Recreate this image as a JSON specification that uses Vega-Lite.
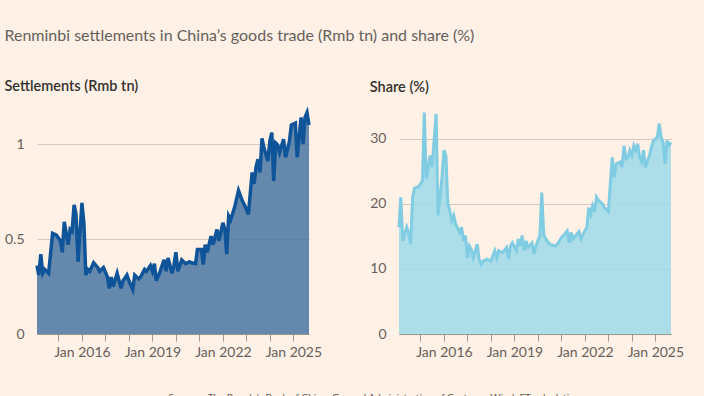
{
  "$schema": "https://vega.github.io/schema/vega-lite/v6.json",
  "background": "#fff1e5",
  "padding": {"left": 4, "top": 28, "right": 22, "bottom": 0},
  "title": {
    "text": "Renminbi settlements in China’s goods trade (Rmb tn) and share (%)",
    "anchor": "start",
    "frame": "bounds",
    "font": "Lato",
    "fontSize": 16,
    "fontWeight": "normal",
    "color": "#66605c",
    "offset": 35
  },
  "config": {
    "view": {"stroke": null},
    "font": "Lato",
    "axisY": {
      "domain": false,
      "ticks": false,
      "grid": true,
      "gridColor": "#d4cbc3",
      "gridWidth": 1,
      "labelFont": "Lato",
      "labelFontSize": 14,
      "labelColor": "#66605c",
      "labelPadding": 13,
      "title": null
    },
    "axisX": {
      "grid": false,
      "domain": true,
      "domainColor": "#9e978f",
      "ticks": true,
      "tickColor": "#9e978f",
      "tickSize": 7,
      "labelFont": "Lato",
      "labelFontSize": 14,
      "labelColor": "#66605c",
      "labelPadding": 4,
      "labelFlush": false,
      "zindex": 1
    }
  },
  "datasets": {
    "settle": [
      {"date": "2014-02-01", "v": 0.36}, {"date": "2014-03-01", "v": 0.31}, {"date": "2014-04-01", "v": 0.42}, {"date": "2014-05-01", "v": 0.32},
      {"date": "2014-06-01", "v": 0.34}, {"date": "2014-08-01", "v": 0.32}, {"date": "2014-10-01", "v": 0.53}, {"date": "2014-12-01", "v": 0.52},
      {"date": "2015-02-01", "v": 0.49}, {"date": "2015-03-01", "v": 0.43}, {"date": "2015-04-01", "v": 0.59}, {"date": "2015-06-01", "v": 0.47},
      {"date": "2015-07-01", "v": 0.55}, {"date": "2015-08-01", "v": 0.54}, {"date": "2015-09-01", "v": 0.68}, {"date": "2015-10-01", "v": 0.63},
      {"date": "2015-11-01", "v": 0.38}, {"date": "2016-01-01", "v": 0.69}, {"date": "2016-02-01", "v": 0.58}, {"date": "2016-03-01", "v": 0.31},
      {"date": "2016-04-01", "v": 0.34}, {"date": "2016-05-01", "v": 0.33}, {"date": "2016-07-01", "v": 0.375}, {"date": "2016-09-01", "v": 0.35},
      {"date": "2016-10-01", "v": 0.33}, {"date": "2016-12-01", "v": 0.35}, {"date": "2017-02-01", "v": 0.30}, {"date": "2017-03-01", "v": 0.24},
      {"date": "2017-04-01", "v": 0.30}, {"date": "2017-05-01", "v": 0.25}, {"date": "2017-07-01", "v": 0.32}, {"date": "2017-09-01", "v": 0.24},
      {"date": "2017-10-01", "v": 0.28}, {"date": "2017-12-01", "v": 0.31}, {"date": "2018-01-01", "v": 0.28}, {"date": "2018-03-01", "v": 0.235},
      {"date": "2018-04-01", "v": 0.31}, {"date": "2018-06-01", "v": 0.29}, {"date": "2018-07-01", "v": 0.30}, {"date": "2018-09-01", "v": 0.34},
      {"date": "2018-10-01", "v": 0.33}, {"date": "2018-12-01", "v": 0.36}, {"date": "2019-01-01", "v": 0.33}, {"date": "2019-02-01", "v": 0.37},
      {"date": "2019-03-01", "v": 0.28}, {"date": "2019-05-01", "v": 0.33}, {"date": "2019-07-01", "v": 0.39}, {"date": "2019-08-01", "v": 0.33},
      {"date": "2019-09-01", "v": 0.40}, {"date": "2019-11-01", "v": 0.32}, {"date": "2019-12-01", "v": 0.36}, {"date": "2020-01-01", "v": 0.43},
      {"date": "2020-02-01", "v": 0.33}, {"date": "2020-04-01", "v": 0.39}, {"date": "2020-06-01", "v": 0.37}, {"date": "2020-08-01", "v": 0.38},
      {"date": "2020-09-01", "v": 0.375}, {"date": "2020-11-01", "v": 0.37}, {"date": "2020-12-01", "v": 0.445}, {"date": "2021-02-01", "v": 0.445},
      {"date": "2021-03-01", "v": 0.365}, {"date": "2021-04-01", "v": 0.47}, {"date": "2021-05-01", "v": 0.43}, {"date": "2021-07-01", "v": 0.515},
      {"date": "2021-08-01", "v": 0.47}, {"date": "2021-10-01", "v": 0.55}, {"date": "2021-11-01", "v": 0.49}, {"date": "2022-01-01", "v": 0.585},
      {"date": "2022-02-01", "v": 0.55}, {"date": "2022-03-01", "v": 0.42}, {"date": "2022-04-01", "v": 0.62}, {"date": "2022-05-01", "v": 0.60},
      {"date": "2022-07-01", "v": 0.665}, {"date": "2022-09-01", "v": 0.755}, {"date": "2022-11-01", "v": 0.70}, {"date": "2022-12-01", "v": 0.68},
      {"date": "2023-02-01", "v": 0.63}, {"date": "2023-04-01", "v": 0.85}, {"date": "2023-05-01", "v": 0.79}, {"date": "2023-06-01", "v": 0.88},
      {"date": "2023-07-01", "v": 0.92}, {"date": "2023-08-01", "v": 0.85}, {"date": "2023-09-01", "v": 1.03}, {"date": "2023-10-01", "v": 0.98},
      {"date": "2023-12-01", "v": 0.91}, {"date": "2024-01-01", "v": 1.015}, {"date": "2024-02-01", "v": 1.06}, {"date": "2024-03-01", "v": 0.805},
      {"date": "2024-04-01", "v": 1.005}, {"date": "2024-05-01", "v": 0.995}, {"date": "2024-06-01", "v": 0.955}, {"date": "2024-08-01", "v": 1.025},
      {"date": "2024-09-01", "v": 0.93}, {"date": "2024-11-01", "v": 1.015}, {"date": "2024-12-01", "v": 1.10}, {"date": "2025-02-01", "v": 1.11},
      {"date": "2025-03-01", "v": 0.93}, {"date": "2025-05-01", "v": 1.14}, {"date": "2025-06-01", "v": 1.00}, {"date": "2025-07-01", "v": 1.14},
      {"date": "2025-08-01", "v": 1.165}, {"date": "2025-09-01", "v": 1.10}
    ],
    "share": [
      {"date": "2014-02-01", "v": 16.4}, {"date": "2014-03-01", "v": 21.0}, {"date": "2014-04-01", "v": 14.3}, {"date": "2014-06-01", "v": 16.4},
      {"date": "2014-07-01", "v": 15.5}, {"date": "2014-08-01", "v": 13.8}, {"date": "2014-09-01", "v": 21.0}, {"date": "2014-10-01", "v": 22.4},
      {"date": "2014-12-01", "v": 22.6}, {"date": "2015-02-01", "v": 23.5}, {"date": "2015-03-01", "v": 34.0}, {"date": "2015-04-01", "v": 23.8},
      {"date": "2015-06-01", "v": 27.4}, {"date": "2015-07-01", "v": 25.6}, {"date": "2015-09-01", "v": 33.8}, {"date": "2015-10-01", "v": 18.2},
      {"date": "2015-12-01", "v": 24.0}, {"date": "2016-01-01", "v": 28.2}, {"date": "2016-02-01", "v": 27.4}, {"date": "2016-03-01", "v": 20.0},
      {"date": "2016-04-01", "v": 18.9}, {"date": "2016-05-01", "v": 17.4}, {"date": "2016-06-01", "v": 18.2}, {"date": "2016-07-01", "v": 16.9},
      {"date": "2016-09-01", "v": 15.6}, {"date": "2016-10-01", "v": 16.4}, {"date": "2016-11-01", "v": 14.3}, {"date": "2016-12-01", "v": 15.1},
      {"date": "2017-01-01", "v": 11.7}, {"date": "2017-02-01", "v": 13.5}, {"date": "2017-03-01", "v": 13.0}, {"date": "2017-04-01", "v": 11.7},
      {"date": "2017-06-01", "v": 13.8}, {"date": "2017-07-01", "v": 11.5}, {"date": "2017-08-01", "v": 10.7}, {"date": "2017-09-01", "v": 11.2},
      {"date": "2017-11-01", "v": 11.5}, {"date": "2018-01-01", "v": 11.2}, {"date": "2018-03-01", "v": 12.8}, {"date": "2018-04-01", "v": 11.7},
      {"date": "2018-05-01", "v": 12.8}, {"date": "2018-07-01", "v": 12.5}, {"date": "2018-09-01", "v": 13.3}, {"date": "2018-10-01", "v": 11.5},
      {"date": "2018-11-01", "v": 13.5}, {"date": "2018-12-01", "v": 14.0}, {"date": "2019-02-01", "v": 12.8}, {"date": "2019-03-01", "v": 14.6},
      {"date": "2019-04-01", "v": 13.5}, {"date": "2019-05-01", "v": 15.1}, {"date": "2019-06-01", "v": 12.8}, {"date": "2019-07-01", "v": 14.3},
      {"date": "2019-08-01", "v": 13.3}, {"date": "2019-10-01", "v": 14.0}, {"date": "2019-11-01", "v": 12.3}, {"date": "2019-12-01", "v": 13.5},
      {"date": "2020-01-01", "v": 14.3}, {"date": "2020-02-01", "v": 15.1}, {"date": "2020-03-01", "v": 21.7}, {"date": "2020-04-01", "v": 15.3},
      {"date": "2020-05-01", "v": 14.6}, {"date": "2020-07-01", "v": 13.8}, {"date": "2020-10-01", "v": 13.5}, {"date": "2020-11-01", "v": 13.8},
      {"date": "2021-01-01", "v": 14.8}, {"date": "2021-02-01", "v": 15.1}, {"date": "2021-04-01", "v": 15.8}, {"date": "2021-05-01", "v": 14.0},
      {"date": "2021-06-01", "v": 15.6}, {"date": "2021-07-01", "v": 14.6}, {"date": "2021-08-01", "v": 15.0}, {"date": "2021-10-01", "v": 15.7},
      {"date": "2021-11-01", "v": 14.6}, {"date": "2021-12-01", "v": 15.3}, {"date": "2022-02-01", "v": 16.4}, {"date": "2022-03-01", "v": 19.4},
      {"date": "2022-04-01", "v": 18.4}, {"date": "2022-05-01", "v": 19.7}, {"date": "2022-06-01", "v": 18.8}, {"date": "2022-07-01", "v": 21.0},
      {"date": "2022-08-01", "v": 20.5}, {"date": "2022-10-01", "v": 20.0}, {"date": "2022-11-01", "v": 19.4}, {"date": "2023-01-01", "v": 18.8},
      {"date": "2023-03-01", "v": 27.1}, {"date": "2023-04-01", "v": 24.0}, {"date": "2023-05-01", "v": 26.1}, {"date": "2023-07-01", "v": 26.4},
      {"date": "2023-08-01", "v": 25.6}, {"date": "2023-09-01", "v": 28.9}, {"date": "2023-10-01", "v": 26.9}, {"date": "2023-11-01", "v": 27.1},
      {"date": "2023-12-01", "v": 28.2}, {"date": "2024-01-01", "v": 27.4}, {"date": "2024-02-01", "v": 28.9}, {"date": "2024-03-01", "v": 28.2},
      {"date": "2024-04-01", "v": 29.2}, {"date": "2024-05-01", "v": 27.1}, {"date": "2024-06-01", "v": 26.4}, {"date": "2024-07-01", "v": 28.2},
      {"date": "2024-08-01", "v": 25.6}, {"date": "2024-10-01", "v": 27.4}, {"date": "2024-11-01", "v": 28.7}, {"date": "2024-12-01", "v": 29.7},
      {"date": "2025-02-01", "v": 30.2}, {"date": "2025-03-01", "v": 32.3}, {"date": "2025-04-01", "v": 30.2}, {"date": "2025-05-01", "v": 29.4},
      {"date": "2025-06-01", "v": 26.1}, {"date": "2025-07-01", "v": 29.7}, {"date": "2025-08-01", "v": 29.0}, {"date": "2025-09-01", "v": 29.4}
    ]
  },
  "bounds": "flush",
  "spacing": 90,
  "hconcat": [
    {
      "width": 272,
      "height": 228,
      "title": {"text": "Settlements (Rmb tn)", "anchor": "start", "frame": "bounds", "font": "Lato", "fontSize": 14.5, "fontWeight": 600, "color": "#33302e", "offset": 11},
      "data": {"name": "settle"},
      "encoding": {
        "x": {
          "field": "date", "type": "temporal", "scale": {"type": "utc"},
          "axis": {
            "title": "Sources: The People's Bank of China; General Administration of Customs; Wind; FT calculations",
            "titleFont": "Lato", "titleFontSize": 10, "titleFontWeight": "normal", "titleColor": "#66605c",
            "titleAnchor": "start", "titleAlign": "left", "titleBaseline": "alphabetic", "titleX": 131, "titleY": 66,
            "values": [
              {"year": 2015, "month": 1, "date": 1, "utc": true}, {"year": 2016, "month": 1, "date": 1, "utc": true},
              {"year": 2017, "month": 1, "date": 1, "utc": true}, {"year": 2018, "month": 1, "date": 1, "utc": true},
              {"year": 2019, "month": 1, "date": 1, "utc": true}, {"year": 2020, "month": 1, "date": 1, "utc": true},
              {"year": 2021, "month": 1, "date": 1, "utc": true}, {"year": 2022, "month": 1, "date": 1, "utc": true},
              {"year": 2023, "month": 1, "date": 1, "utc": true}, {"year": 2024, "month": 1, "date": 1, "utc": true},
              {"year": 2025, "month": 1, "date": 1, "utc": true}
            ],
            "labelExpr": "utcyear(datum.value) % 3 == 0 ? 'Jan ' + utcyear(datum.value) : ''"
          }
        },
        "y": {
          "field": "v", "type": "quantitative",
          "scale": {"domain": [0, 1.2], "nice": false},
          "axis": {"values": [0, 0.5, 1], "format": "~f"}
        }
      },
      "layer": [
        {"mark": {"type": "area", "color": "#4a77a3", "opacity": 0.85}},
        {"mark": {"type": "line", "color": "#0f5499", "strokeWidth": 3.5, "strokeJoin": "miter"}}
      ]
    },
    {
      "width": 272,
      "height": 228,
      "title": {"text": "Share (%)", "anchor": "start", "frame": "bounds", "font": "Lato", "fontSize": 14.5, "fontWeight": 600, "color": "#33302e", "offset": 11},
      "data": {"name": "share"},
      "encoding": {
        "x": {
          "field": "date", "type": "temporal", "scale": {"type": "utc"},
          "axis": {
            "title": null,
            "values": [
              {"year": 2015, "month": 1, "date": 1, "utc": true}, {"year": 2016, "month": 1, "date": 1, "utc": true},
              {"year": 2017, "month": 1, "date": 1, "utc": true}, {"year": 2018, "month": 1, "date": 1, "utc": true},
              {"year": 2019, "month": 1, "date": 1, "utc": true}, {"year": 2020, "month": 1, "date": 1, "utc": true},
              {"year": 2021, "month": 1, "date": 1, "utc": true}, {"year": 2022, "month": 1, "date": 1, "utc": true},
              {"year": 2023, "month": 1, "date": 1, "utc": true}, {"year": 2024, "month": 1, "date": 1, "utc": true},
              {"year": 2025, "month": 1, "date": 1, "utc": true}
            ],
            "labelExpr": "utcyear(datum.value) % 3 == 0 ? 'Jan ' + utcyear(datum.value) : ''"
          }
        },
        "y": {
          "field": "v", "type": "quantitative",
          "scale": {"domain": [0, 35], "nice": false},
          "axis": {"values": [0, 10, 20, 30], "format": "~f"}
        }
      },
      "layer": [
        {"mark": {"type": "area", "color": "#9ddbea", "opacity": 0.85}},
        {"mark": {"type": "line", "color": "#80cde3", "strokeWidth": 3, "strokeJoin": "miter"}}
      ]
    }
  ]
}
